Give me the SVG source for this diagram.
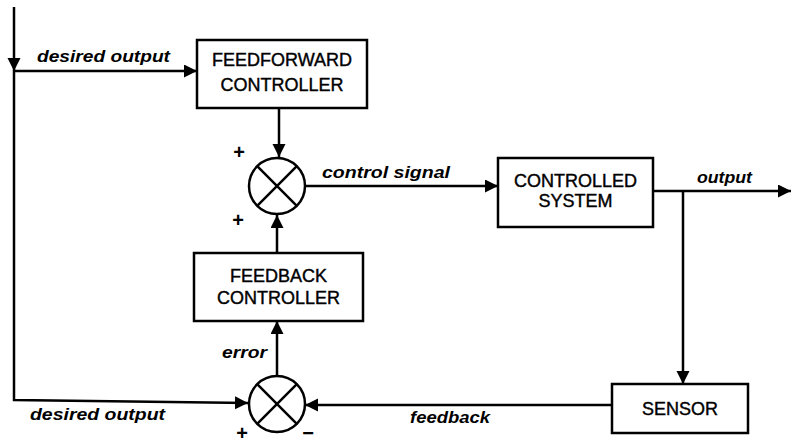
<svg xmlns="http://www.w3.org/2000/svg" width="791" height="444" viewBox="0 0 791 444">
  <style>
    .box { fill: #ffffff; stroke: #000000; stroke-width: 2.5; }
    .sum { fill: #ffffff; stroke: #000000; stroke-width: 2.5; }
    .wire { fill: none; stroke: #000000; stroke-width: 2.5; }
    .arrow { marker-end: url(#head); }
    .name { font-family: "Liberation Sans", Arial, sans-serif; font-size: 18px; text-anchor: middle; fill: #000; stroke: #000; stroke-width: 0.4; }
    .sig { font-family: "Liberation Sans", Arial, sans-serif; font-size: 16px; font-style: italic; font-weight: bold; fill: #000; }
    .sign { font-family: "Liberation Sans", Arial, sans-serif; font-size: 20px; font-weight: bold; text-anchor: middle; fill: #000; }
  </style>
  <defs>
    <marker id="head" markerUnits="userSpaceOnUse" markerWidth="14" markerHeight="14" refX="13" refY="6.5" orient="auto">
      <path d="M0,0 L13,6.5 L0,13 Z" fill="#000"/>
    </marker>
  </defs>
  <rect width="791" height="444" fill="#ffffff"/>

  <g id="connectors">
    <!-- desired output input and its two branches -->
    <path class="wire arrow" d="M14,7 V71"/>
    <path class="wire arrow" d="M14,71 H197"/>
    <path class="wire arrow" d="M14,71 V400 L248,403"/>
    <!-- feedforward path into upper summing junction -->
    <path class="wire arrow" d="M279,108 V157"/>
    <!-- feedback controller into upper summing junction -->
    <path class="wire arrow" d="M277,253 V215"/>
    <!-- control signal -->
    <path class="wire arrow" d="M305,186 H498"/>
    <!-- output -->
    <path class="wire arrow" d="M653,191 H791"/>
    <path class="wire arrow" d="M683,191 V384"/>
    <!-- feedback from sensor -->
    <path class="wire arrow" d="M612,405 H305"/>
    <!-- error -->
    <path class="wire arrow" d="M277,376 V321"/>
  </g>

  <g id="feedforward-controller">
    <rect class="box" x="197" y="40" width="170" height="68"/>
    <text class="name" x="282" y="66">FEEDFORWARD</text>
    <text class="name" x="282" y="91">CONTROLLER</text>
  </g>

  <g id="summing-junction-top">
    <circle class="sum" cx="277" cy="186" r="28"/>
    <path class="wire" d="M257.2,166.2 L296.8,205.8 M296.8,166.2 L257.2,205.8"/>
    <text class="sign" x="239" y="159">+</text>
    <text class="sign" x="238" y="227">+</text>
  </g>

  <g id="controlled-system">
    <rect class="box" x="498" y="158" width="155" height="69"/>
    <text class="name" x="575.5" y="187">CONTROLLED</text>
    <text class="name" x="575.5" y="207">SYSTEM</text>
  </g>

  <g id="feedback-controller">
    <rect class="box" x="194" y="253" width="169" height="68"/>
    <text class="name" x="278.5" y="282">FEEDBACK</text>
    <text class="name" x="278.5" y="304">CONTROLLER</text>
  </g>

  <g id="summing-junction-bottom">
    <circle class="sum" cx="277" cy="404" r="28"/>
    <path class="wire" d="M257.2,384.2 L296.8,423.8 M296.8,384.2 L257.2,423.8"/>
    <text class="sign" x="242" y="440">+</text>
    <text class="sign" x="308" y="440">−</text>
  </g>

  <g id="sensor">
    <rect class="box" x="612" y="384" width="136" height="49"/>
    <text class="name" x="680" y="415">SENSOR</text>
  </g>

  <g id="signal-labels">
    <text class="sig" x="37" y="62" textLength="133" lengthAdjust="spacingAndGlyphs">desired output</text>
    <text class="sig" x="322" y="178" textLength="128" lengthAdjust="spacingAndGlyphs">control signal</text>
    <text class="sig" x="697" y="183" textLength="55" lengthAdjust="spacingAndGlyphs">output</text>
    <text class="sig" x="222" y="358" textLength="45" lengthAdjust="spacingAndGlyphs">error</text>
    <text class="sig" x="30" y="420" textLength="135" lengthAdjust="spacingAndGlyphs">desired output</text>
    <text class="sig" x="410" y="423" textLength="80" lengthAdjust="spacingAndGlyphs">feedback</text>
  </g>
</svg>
